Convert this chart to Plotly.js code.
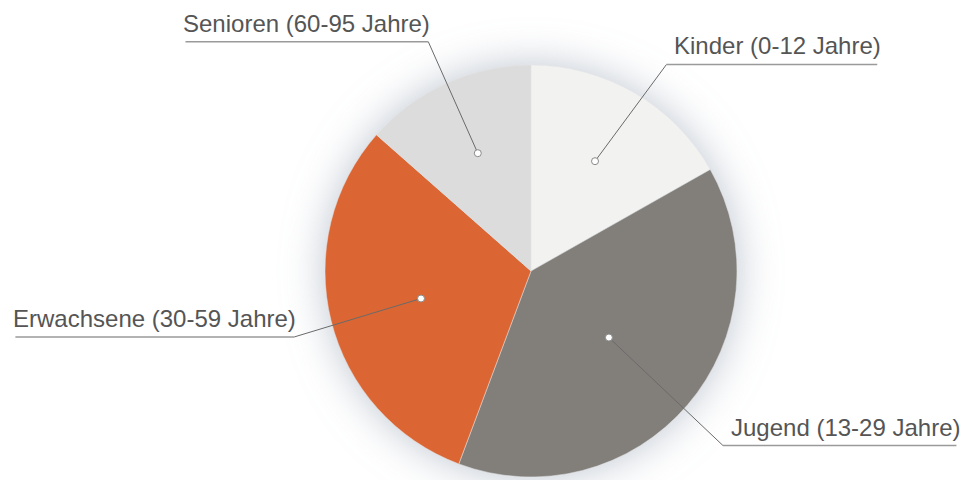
<!DOCTYPE html>
<html>
<head>
<meta charset="utf-8">
<script src="https://cdn.plot.ly/plotly-3.0.1.min.js"></script>
<style>
  html, body { margin: 0; padding: 0; background: #ffffff; }
  #chart { width: 970px; height: 480px; }
  .pielayer { filter: drop-shadow(0 0 20px rgba(125, 140, 160, 0.5)); }
</style>
</head>
<body>
<div id="chart"></div>
<script>
// ---- data ----
const categories = ['Kinder (0-12 Jahre)', 'Jugend (13-29 Jahre)', 'Erwachsene (30-59 Jahre)', 'Senioren (60-95 Jahre)'];
const values = [16.8, 38.9, 30.8, 13.5];
const colors = ['#f2f2f0', '#827f7a', '#db6633', '#dcdcdc'];

// ---- style / layout constants ----
const W = 970, H = 480;
const M = { l: 92, r: 0, t: 65, b: 3 };
const FONT = "'Liberation Sans', Arial, sans-serif";
const FONT_SIZE = 24;
const TEXT_COLOR = '#555555';
const LABEL_RADIUS = 1.2;          // elbow distance as a multiple of pie radius
const LABEL_NUDGE = [[11, 7], [4, 14], [3, 6], [-1, -4]];  // pixel tweaks per label
const DOT_FACTOR = 0.97;

const pw = W - M.l - M.r, ph = H - M.t - M.b;
const R = Math.min(pw, ph) / 2;
const cx = M.l + pw / 2, cy = M.t + ph / 2;
const toPX = x => (x - M.l) / pw;
const toPY = y => 1 - (y - M.t) / ph;

const ctx = document.createElement('canvas').getContext('2d');
ctx.font = FONT_SIZE + 'px ' + FONT;

const total = values.reduce((a, b) => a + b, 0);
const shapes = [], annotations = [];
let cum = 0;
values.forEach((v, i) => {
  const a0 = cum / total * 2 * Math.PI;
  cum += v;
  const a1 = cum / total * 2 * Math.PI;
  const mid = (a0 + a1) / 2, half = (a1 - a0) / 2;
  const d = 2 * R * Math.sin(half) / (3 * half) * DOT_FACTOR;
  const dx = cx + d * Math.sin(mid), dy = cy - d * Math.cos(mid);
  const ex = cx + LABEL_RADIUS * R * Math.sin(mid) + LABEL_NUDGE[i][0];
  const ey = cy - LABEL_RADIUS * R * Math.cos(mid) + LABEL_NUDGE[i][1];
  const right = Math.sin(mid) > 0;
  const tw = ctx.measureText(categories[i]).width;
  const ux0 = right ? ex : ex - tw + 4;
  const ux1 = right ? ex + tw + 4 : ex;

  // leader line
  shapes.push({
    type: 'path', xref: 'paper', yref: 'paper',
    path: `M ${toPX(dx)},${toPY(dy)} L ${toPX(ex)},${toPY(ey)}`,
    line: { color: '#6a6a6a', width: 1 }
  });
  // underline
  shapes.push({
    type: 'line', xref: 'paper', yref: 'paper',
    x0: toPX(ux0), x1: toPX(ux1), y0: toPY(ey), y1: toPY(ey),
    line: { color: '#9a9a9a', width: 1.5 }
  });
  // dot
  shapes.push({
    type: 'circle', xref: 'paper', yref: 'paper',
    xsizemode: 'pixel', ysizemode: 'pixel',
    xanchor: toPX(dx), yanchor: toPY(dy),
    x0: -3.5, x1: 3.5, y0: -3.5, y1: 3.5,
    fillcolor: '#ffffff', line: { color: '#8a8a8a', width: 1 }
  });
  annotations.push({
    xref: 'paper', yref: 'paper',
    x: toPX(right ? ex + 6 : ex + 4), y: toPY(ey),
    xanchor: right ? 'left' : 'right', yanchor: 'bottom',
    yshift: 3,
    text: categories[i], showarrow: false,
    font: { family: FONT, size: FONT_SIZE, color: TEXT_COLOR }
  });
});

const data = [{
  type: 'pie',
  labels: categories,
  values: values,
  sort: false,
  direction: 'clockwise',
  rotation: 0,
  textinfo: 'none',
  hoverinfo: 'label+percent',
  marker: { colors: colors, line: { color: '#e4e6e8', width: 0.5 } },
  showlegend: false
}];

const layout = {
  width: W, height: H,
  margin: M,
  paper_bgcolor: '#ffffff',
  plot_bgcolor: '#ffffff',
  showlegend: false,
  shapes: shapes,
  annotations: annotations
};

Plotly.newPlot('chart', data, layout, { displayModeBar: false, staticPlot: true });
</script>
</body>
</html>
